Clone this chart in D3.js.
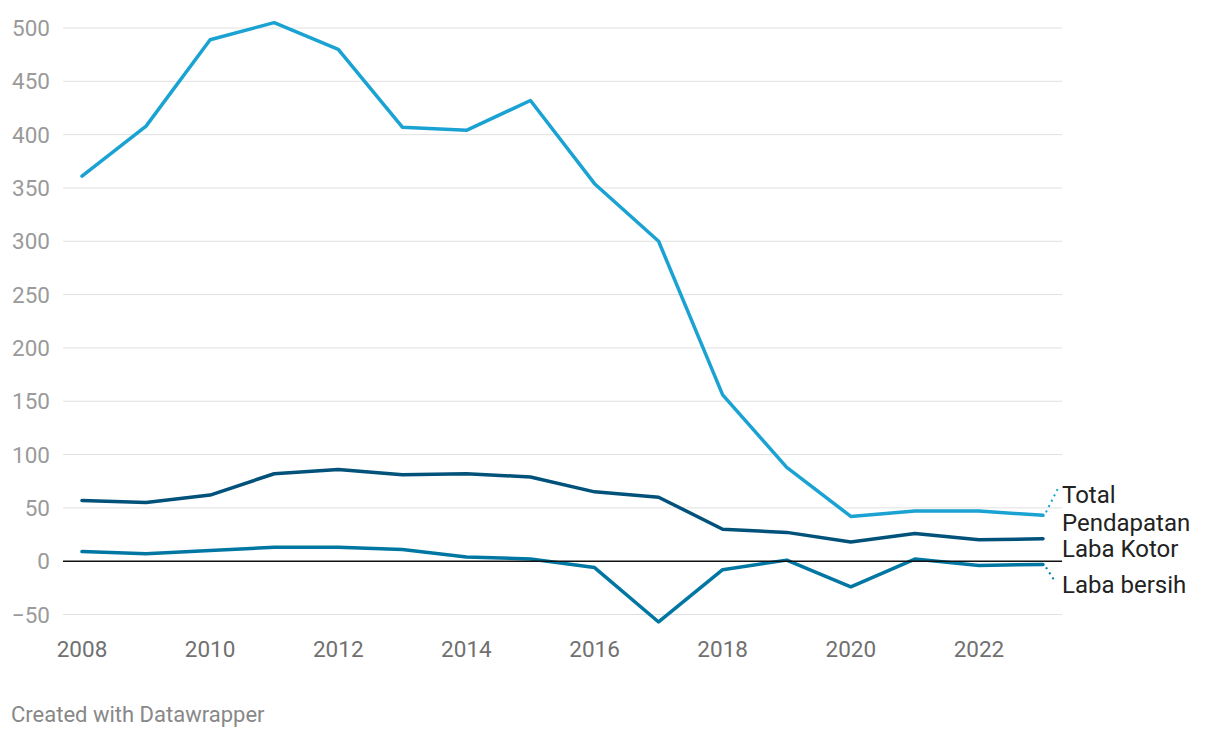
<!DOCTYPE html>
<html><head><meta charset="utf-8">
<script src="https://cdn.jsdelivr.net/npm/d3@7"></script>
<style>body{margin:0;background:#fff;font-family:Roboto,sans-serif}</style>
</head><body><svg id="c" width="1220" height="738"></svg>
<script>
const years = [2008,2009,2010,2011,2012,2013,2014,2015,2016,2017,2018,2019,2020,2021,2022,2023];
const totalPendapatan = [361,408,489,505,480,407,404,432,354,300,156,88,42,47,47,43];
const labaKotor = [57,55,62,82,86,81,82,79,65,60,30,27,18,26,20,21];
const labaBersih = [9,7,10,13,13,11,4,2,-6,-57,-8,1,-24,2,-4,-3];
const yTicks = [-50,0,50,100,150,200,250,300,350,400,450,500];
const xTicks = [2008,2010,2012,2014,2016,2018,2020,2022];

const svg = d3.select("#c");
const x = d3.scaleLinear().domain([2008,2023]).range([82,1043]);
const y = d3.scaleLinear().domain([-50,500]).range([614.5,28]);

// gridlines
svg.append("g").selectAll("line").data(yTicks.filter(d=>d!==0)).join("line")
  .attr("x1",63).attr("x2",1062).attr("y1",d=>y(d)).attr("y2",d=>y(d))
  .attr("stroke","#e0e0e0").attr("stroke-width",1);
svg.append("g").selectAll("text").data(yTicks).join("text")
  .attr("x",50).attr("y",d=>y(d)+8).attr("text-anchor","end")
  .attr("fill","#9a9a9a").attr("font-size",22.5)
  .text(d=>d<0?"\u2212"+Math.abs(d):d);
svg.append("g").selectAll("text").data(xTicks).join("text")
  .attr("x",d=>x(d)).attr("y",657).attr("text-anchor","middle")
  .attr("fill","#707070").attr("font-size",22.5).text(d=>d);

const line = d3.line().x((d,i)=>x(years[i])).y(d=>y(d));
const series = [
  {v:totalPendapatan,c:"#1aa3d2"},
  {v:labaKotor,c:"#00527a"},
  {v:labaBersih,c:"#0077a3"}
];
series.forEach(s=>{
  svg.append("path").datum(s.v).attr("d",line).attr("fill","none")
    .attr("stroke",s.c).attr("stroke-width",3.5).attr("stroke-linejoin","round").attr("stroke-linecap","round");
});
// zero line
svg.append("line").attr("x1",63).attr("x2",1062).attr("y1",y(0)).attr("y2",y(0))
  .attr("stroke","#111").attr("stroke-width",1.5);

// connectors
const ex = x(2023);
svg.append("path").attr("d",`M${ex+3},${y(43)-3} L${ex+15},${y(43)-27}`)
  .attr("stroke","#1aa3d2").attr("stroke-width",2).attr("stroke-dasharray","2,4").attr("fill","none");
svg.append("path").attr("d",`M${ex+3},${y(-3)+3} L${ex+12},${y(-3)+17}`)
  .attr("stroke","#0077a3").attr("stroke-width",2).attr("stroke-dasharray","2,4").attr("fill","none");

const lab = svg.append("g").attr("font-size",24).attr("fill","#222");
lab.append("text").attr("x",1062).attr("y",503).text("Total");
lab.append("text").attr("x",1062).attr("y",531).text("Pendapatan");
lab.append("text").attr("x",1062).attr("y",557).text("Laba Kotor");
lab.append("text").attr("x",1062).attr("y",593).text("Laba bersih");

svg.append("text").attr("x",11).attr("y",722).attr("fill","#888").attr("font-size",22)
  .text("Created with Datawrapper");
</script></body></html>
